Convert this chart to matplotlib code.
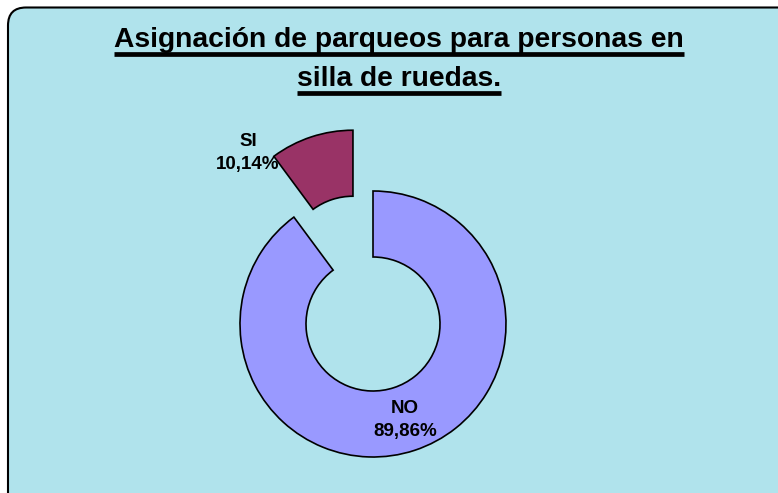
import matplotlib
matplotlib.use("Agg")
import matplotlib.pyplot as plt
from matplotlib.patches import FancyBboxPatch

# Data
labels = ["NO", "SI"]
values = [89.86, 10.14]
value_text = ["89,86%", "10,14%"]
colors = ["#9999FF", "#993366"]

title_lines = ["Asignación de parqueos para personas en", "silla de ruedas."]

W, H = 778, 493
fig = plt.figure(figsize=(W / 100, H / 100), dpi=100)
fig.patch.set_facecolor("white")
ax = fig.add_axes([0, 0, 1, 1])

# background panel with rounded border (pixel coords, y up)
bg = FancyBboxPatch((8, -30), W + 30, H - 7 + 30 - 0.5,
                    boxstyle="round,pad=0,rounding_size=18",
                    facecolor="#B0E3EC", edgecolor="black", linewidth=1.5,
                    zorder=0)
ax.add_patch(bg)

# donut chart
cx, cy = 373, H - 324
r = 133
wedges, _ = ax.pie(values, colors=colors, startangle=90, counterclock=False,
                   radius=r, center=(cx, cy), explode=[0, 64],
                   wedgeprops=dict(width=66, edgecolor="black", linewidth=1.2))
for w in wedges:
    w.set_clip_on(False)

ax.set_xlim(0, W)
ax.set_ylim(0, H)
ax.set_aspect("auto")
ax.axis("off")

# slice labels
ax.text(405, H - 420, labels[0] + "\n" + value_text[0], ha="center", va="center",
        fontsize=13.5, fontweight="bold", family="Liberation Sans", linespacing=1.45)
ax.text(248, H - 153, labels[1] + "\n" + value_text[1], ha="center", va="center",
        fontsize=13.5, fontweight="bold", family="Liberation Sans", linespacing=1.45)

# title with underline
baselines = [H - 47, H - 86]
fig.canvas.draw()
renderer = fig.canvas.get_renderer()
for line, by in zip(title_lines, baselines):
    t = ax.text(399, by, line, ha="center", va="baseline", fontsize=20.3,
                fontweight="bold", family="Liberation Sans")
    bb = t.get_window_extent(renderer)
    ax.plot([bb.x0, bb.x1], [by - 6.5, by - 6.5], color="black", lw=3.4,
            solid_capstyle="butt")

fig.savefig("out.png", dpi=100)
